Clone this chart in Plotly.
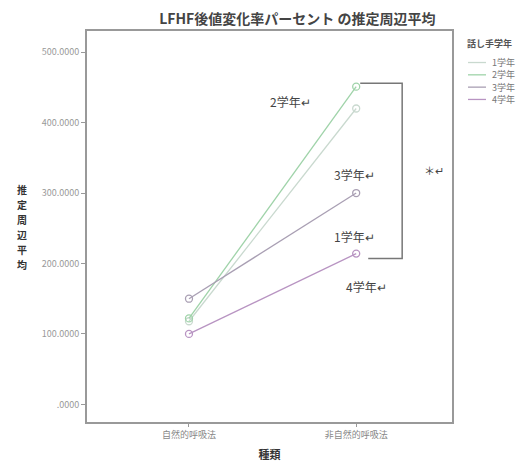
import plotly.graph_objects as go

categories = ["自然的呼吸法", "非自然的呼吸法"]
series_names = ["1学年", "2学年", "3学年", "4学年"]
series_values = [
    [118, 420],
    [122, 451],
    [150, 300],
    [100, 214],
]
series_colors = ["#c9d9cf", "#9fd3a9", "#a99fb3", "#b894c2"]
y_ticks = [0, 100, 200, 300, 400, 500]
y_tick_labels = [".0000", "100.0000", "200.0000", "300.0000", "400.0000", "500.0000"]
legend_title = "話し手学年"
y_title = "推定周辺平均"
x_title = "種類"
chart_title = "LFHF後値変化率パーセント の推定周辺平均"

FONT = "Noto Sans CJK JP"
W, H = 531, 472
ML, MR, MT, MB = 87, 79, 31, 44
PW, PH = W - ML - MR, H - MT - MB


def px(x):
    return (x - ML) / PW


def py(y):
    return (H - MB - y) / PH


fig = go.Figure()
for name, vals, col in zip(series_names, series_values, series_colors):
    fig.add_trace(go.Scatter(
        x=[0, 1], y=vals, name=name, mode="lines+markers", showlegend=False,
        line=dict(color=col, width=1.3),
        marker=dict(symbol="circle-open", size=7, color=col, line=dict(width=1.3)),
    ))

grey = "#999999"
fig.update_layout(
    width=W, height=H,
    margin=dict(l=ML, r=MR, t=MT, b=MB),
    paper_bgcolor="white", plot_bgcolor="white",
    font=dict(family=FONT, size=9, color="#777"),
    title=dict(text="<b>" + chart_title + "</b>",
               x=0.56, xanchor="center", y=0.959, yanchor="middle",
               font=dict(size=14, color="#444", family=FONT)),
    showlegend=False,
    xaxis=dict(range=[-0.61, 1.573], tickmode="array", tickvals=[0, 1],
               ticktext=categories, ticks="outside", ticklen=3, tickcolor=grey,
               showline=True, linecolor=grey, linewidth=1.8, mirror=True,
               showgrid=False, zeroline=False,
               tickfont=dict(size=9, color="#888"),
               title=dict(text="<b>" + x_title + "</b>", font=dict(size=11, color="#333"),
                          standoff=12)),
    yaxis=dict(range=[-25, 530], tickmode="array", tickvals=y_ticks,
               ticktext=y_tick_labels, ticks="outside", ticklen=4, tickcolor=grey,
               showline=True, linecolor=grey, linewidth=1.8, mirror=True,
               showgrid=False, zeroline=False,
               tickfont=dict(size=9, color="#999")),
)

# vertical y-axis title (upright stacked characters)
for i, ch in enumerate(y_title):
    fig.add_annotation(text="<b>" + ch + "</b>", xref="paper", yref="paper",
                       x=px(22), y=py(192 + i * 15.2), xanchor="center", yanchor="middle",
                       showarrow=False, borderpad=0,
                       font=dict(size=10, color="#333", family=FONT))

# manual legend
fig.add_annotation(text="<b>" + legend_title + "</b>", xref="paper", yref="paper",
                   x=px(465), y=py(44), xanchor="left", yanchor="middle", showarrow=False,
                   font=dict(size=9, color="#555", family=FONT))
for i, (name, col) in enumerate(zip(series_names, series_colors)):
    yy = py(63 + i * 12.5)
    fig.add_shape(type="line", xref="paper", yref="paper", x0=px(468), x1=px(486),
                  y0=yy, y1=yy, line=dict(color=col, width=1.3))
    fig.add_annotation(text=name, xref="paper", yref="paper", x=px(491), y=yy,
                       xanchor="left", yanchor="middle", showarrow=False, borderpad=0,
                       font=dict(size=9, color="#777", family=FONT))

# in-plot labels
labels = [("2学年↵", 0.605, 430), ("3学年↵", 0.988, 326),
          ("1学年↵", 0.988, 238), ("4学年↵", 1.06, 168)]
for txt, lx, ly in labels:
    fig.add_annotation(text=txt, x=lx, y=ly, xref="x", yref="y", showarrow=False,
                       font=dict(size=12, color="#444", family=FONT))
fig.add_annotation(text="＊↵", x=1.467, y=332, xref="x", yref="y", showarrow=False,
                   font=dict(size=11, color="#444", family=FONT))

# significance bracket
top_v = series_values[1][1] + 5
bot_v = series_values[3][1] - 7
fig.add_shape(type="path", xref="x", yref="y",
              path=f"M 1.024 {top_v} L 1.275 {top_v} L 1.275 {bot_v} L 1.072 {bot_v}",
              line=dict(color="#777", width=1.5))

fig.write_html("out.html", config={"displayModeBar": False},
               post_script="document.body.style.margin='0';")
